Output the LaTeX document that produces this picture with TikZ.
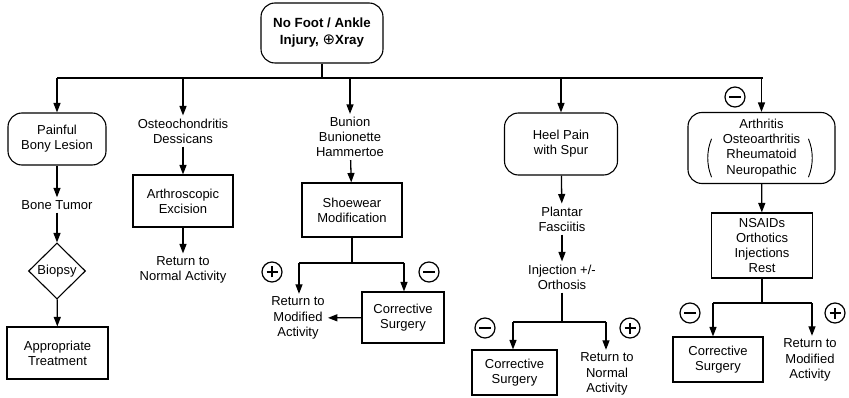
\documentclass[tikz,border=0pt]{standalone}
\usepackage{fontspec}
\setmainfont{Liberation Sans}
\newfontfamily\symbfont{DejaVu Sans}
\usetikzlibrary{shapes.geometric,arrows.meta}

\tikzset{
    every node/.style={font=\fontsize{13}{15.2}\selectfont},
    txt/.style={align=center,inner sep=2.5pt},
    box/.style={txt,draw,line width=1.1pt},
    rbox/.style={box,rounded corners=14pt},
    sign/.style={draw,circle,minimum size=20pt,inner sep=0pt,line width=1.2pt},
    plussign/.style={sign,path picture={
        \draw[line width=1.6pt] (path picture bounding box.center) ++(-5.5pt,0) -- ++(11pt,0)
            (path picture bounding box.center) ++(0,-5.5pt) -- ++(0,11pt);}},
    minussign/.style={sign,path picture={
        \draw[line width=1.6pt] (path picture bounding box.center) ++(-6pt,0) -- ++(12pt,0);}},
    paren/.style={line width=0.9pt,line cap=round},
}

\begin{document}
\begin{tikzpicture}[
        x=1pt,y=1pt,
        >={Triangle[length=9.5pt,width=7pt]},
        line width=1.3pt,
        ]
        \useasboundingbox (0,0) rectangle (849,-398);

        % root and the five branches
        \node[rbox,minimum width=122,minimum height=60,font=\fontsize{13.3}{17}\selectfont\bfseries] (top) at (322,-33)
            {No Foot / Ankle\\Injury, {\symbfont\mdseries\fontsize{15}{17}\selectfont ⊕}Xray};
        \coordinate (busL) at (57,-78);
        \coordinate (busR) at (763,-78);

        \node[rbox,minimum width=98,minimum height=52] (lesion) at (57,-139) {Painful\\Bony Lesion};
        \node[txt] (ocd) at (183,-131) {Osteochondritis\\Dessicans};
        \node[txt] (bunion) at (350,-137) {Bunion\\Bunionette\\Hammertoe};
        \node[rbox,minimum width=113,minimum height=62] (heel) at (561,-144) {Heel Pain\\with Spur};
        \node[rbox,minimum width=147,minimum height=71] (arth) at (761.5,-148)
            {Arthritis\\Osteoarthritis\\Rheumatoid\\Neuropathic};
        % brackets round the three kinds
        \draw[paren] ([shift={(-50,9)}]arth.center) .. controls +(-5,-12) and +(-5,12) .. ([shift={(-50,-29)}]arth.center);
        \draw[paren] ([shift={(47,9)}]arth.center) .. controls +(5,-12) and +(5,12) .. ([shift={(47,-29)}]arth.center);
        \node[minussign] (negC) at (735,-97) {};

        \draw (top) -- (top |- busL);
        \draw (busL) -- (busR);
        \foreach \n in {lesion,ocd,bunion,heel,arth}
            \draw[->] (\n |- busL) -- (\n);

        % bony lesion
        \node[txt] (tumor) at (57,-205) {Bone Tumor};
        \node[draw,diamond,aspect=1,line width=1.1pt,minimum width=57,minimum height=56,inner sep=0pt] (biopsy) at (57,-271) {Biopsy};
        \node[box,minimum width=101,minimum height=52] (treat) at (57.5,-353) {Appropriate\\Treatment};
        \draw[->] (lesion) -- (tumor);
        \draw[->] (tumor) -- (biopsy);
        \draw[->] (biopsy) -- (treat);

        % osteochondritis
        \node[box,minimum width=100,minimum height=52] (excision) at (183,-201) {Arthroscopic\\Excision};
        \node[txt] (normalA) at (183,-270) {Return to\\Normal Activity};
        \draw[->] (ocd) -- (excision);
        \draw[->] (excision) -- (normalA);

        % bunion
        \node[box,minimum width=100,minimum height=54] (shoe) at (352,-210) {Shoewear\\Modification};
        \coordinate (jA) at (299,-263);
        \coordinate (kA) at (404,-263);
        \node[txt] (modA) at (298,-318) {Return to\\Modified\\Activity};
        \node[box,minimum width=82,minimum height=51] (surgA) at (403,-317.5) {Corrective\\Surgery};
        \node[plussign] (posA) at (272,-272) {};
        \node[minussign] (negA) at (429,-272) {};
        \draw[->] (bunion) -- (shoe);
        \draw (shoe) -- (shoe |- jA);
        \draw (jA) -- (kA);
        \draw[->] (jA) -- (jA |- modA.north);
        \draw[->] (kA) -- (kA |- surgA.north);
        \draw[->] (surgA) -- (modA);

        % heel pain
        \node[txt] (plantar) at (562,-219) {Plantar\\Fasciitis};
        \node[txt] (inject) at (562,-277) {Injection +/-\\Orthosis};
        \coordinate (jB) at (513,-322);
        \coordinate (kB) at (606,-322);
        \node[box,minimum width=85,minimum height=45] (surgB) at (514.5,-372.5) {Corrective\\Surgery};
        \node[txt] (normalB) at (607,-374) {Return to\\Normal\\Activity};
        \node[minussign] (negB) at (485,-328) {};
        \node[plussign] (posB) at (630,-328) {};
        \draw[->] (heel) -- (plantar);
        \draw[->] (plantar) -- (inject);
        \draw (inject) -- (inject |- jB);
        \draw (jB) -- (kB);
        \draw[->] (jB) -- (jB |- surgB.north);
        \draw[->] (kB) -- (kB |- normalB.north);

        % arthritis
        \node[box,minimum width=101,minimum height=65] (nsaids) at (762,-245.5) {NSAIDs\\Orthotics\\Injections\\Rest};
        \coordinate (jC) at (713,-303);
        \coordinate (kC) at (812,-303);
        \node[box,minimum width=90,minimum height=45] (surgC) at (718,-359.5) {Corrective\\Surgery};
        \node[txt] (modB) at (810,-360) {Return to\\Modified\\Activity};
        \node[minussign] (negD) at (690,-313) {};
        \node[plussign] (posD) at (835,-313) {};
        \draw[->] (arth) -- (nsaids);
        \draw (nsaids) -- (nsaids |- jC);
        \draw (jC) -- (kC);
        \draw[->] (jC) -- (jC |- surgC.north);
        \draw[->] (kC) -- (kC |- modB.north);
\end{tikzpicture}
\end{document}
